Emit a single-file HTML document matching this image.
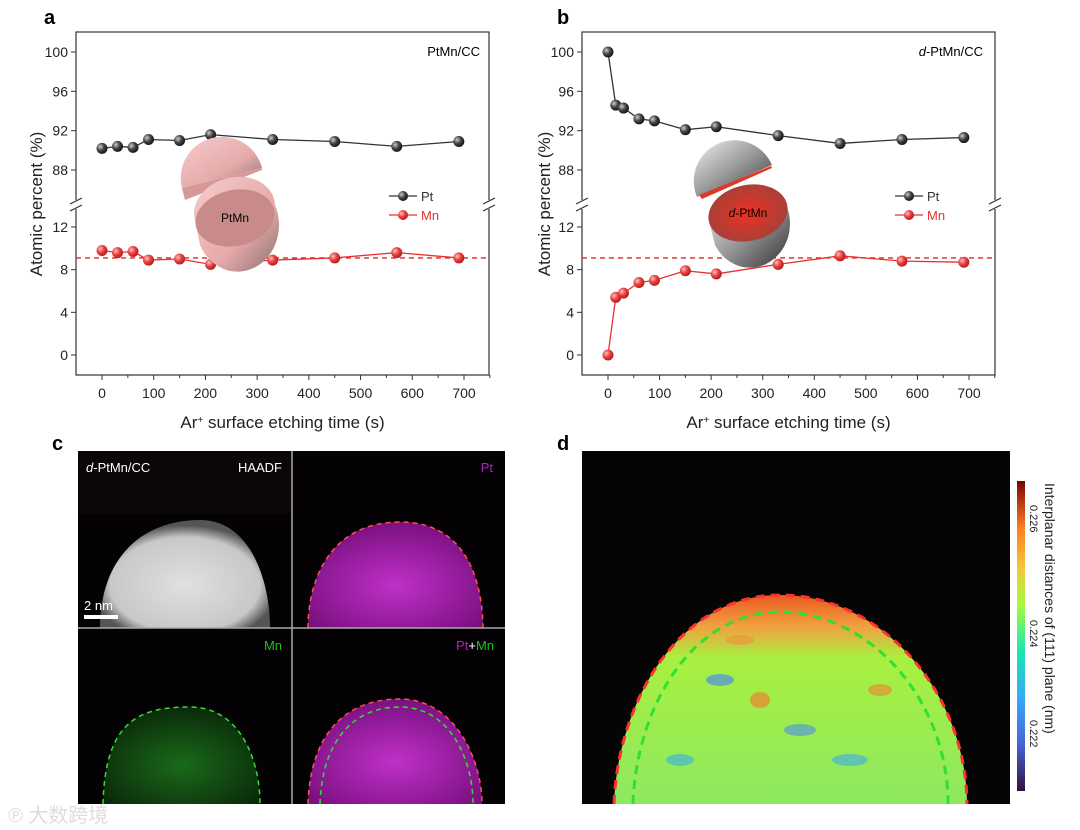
<!DOCTYPE html>
<html><head><meta charset="utf-8">
<style>
body{margin:0;background:#fff;width:1080px;height:830px;overflow:hidden;font-family:"Liberation Sans","Noto Sans CJK SC",sans-serif}
svg{position:absolute;left:0;top:0}
</style></head>
<body>
<svg id="fig" width="1080" height="830" viewBox="0 0 1080 830">
<defs>
<radialGradient id="gball" cx="0.35" cy="0.35" r="0.7"><stop offset="0" stop-color="#ccc"/><stop offset="0.5" stop-color="#444"/><stop offset="1" stop-color="#111"/></radialGradient>
<radialGradient id="rball" cx="0.35" cy="0.35" r="0.7"><stop offset="0" stop-color="#ffc0c0"/><stop offset="0.5" stop-color="#e84040"/><stop offset="1" stop-color="#b01818"/></radialGradient>
<linearGradient id="pinkShell" x1="0" y1="0" x2="1" y2="1"><stop offset="0" stop-color="#f6cccc"/><stop offset="0.6" stop-color="#e6aaaa"/><stop offset="1" stop-color="#8a7070"/></linearGradient>
<linearGradient id="greyShell" x1="0" y1="0" x2="1" y2="1"><stop offset="0" stop-color="#f0f0f0"/><stop offset="0.5" stop-color="#999"/><stop offset="1" stop-color="#333"/></linearGradient>
<radialGradient id="redCore"><stop offset="0" stop-color="#f03020"/><stop offset="1" stop-color="#a84038"/></radialGradient>
<linearGradient id="cbar" x1="0" y1="1" x2="0" y2="0"><stop offset="0" stop-color="#30123b"/><stop offset="0.15" stop-color="#4662d7"/><stop offset="0.3" stop-color="#36aaf9"/><stop offset="0.45" stop-color="#1ae4b6"/><stop offset="0.6" stop-color="#a4fc3c"/><stop offset="0.72" stop-color="#f3c63a"/><stop offset="0.85" stop-color="#fb7e21"/><stop offset="1" stop-color="#7a0403"/></linearGradient>
<radialGradient id="haadf" cx="0.5" cy="0.6" r="0.55"><stop offset="0" stop-color="#e0e0e0"/><stop offset="0.8" stop-color="#c8c8c8"/><stop offset="1" stop-color="#555"/></radialGradient>
<radialGradient id="magenta" cx="0.5" cy="0.6" r="0.6"><stop offset="0" stop-color="#c030c8"/><stop offset="1" stop-color="#7a1080"/></radialGradient>
<radialGradient id="greenDots" cx="0.5" cy="0.6" r="0.6"><stop offset="0" stop-color="#1a6a1a"/><stop offset="1" stop-color="#0a2a0a"/></radialGradient>
<linearGradient id="mapFill" x1="0" y1="0" x2="0" y2="1"><stop offset="0" stop-color="#e85a20"/><stop offset="0.15" stop-color="#f2a040"/><stop offset="0.3" stop-color="#a8f040"/><stop offset="1" stop-color="#8ee860"/></linearGradient>
</defs>
<g id="chartA"></g>
<g id="chartB"></g>

<text x="44" y="24" font-size="20" font-weight="bold">a</text>
<text x="480" y="56" font-size="13" text-anchor="end">PtMn/CC</text>
<g>
<path d="M182,188 A40,40 0 0 1 262,168 Z" fill="url(#pinkShell)"/>
<path d="M182,188 L262,168 L262,170 L185,200 Z" fill="#d89898"/>
<path d="M194,215 A39,31 -15 0 1 275,205 A40,45 0 0 1 200,245 Z" fill="url(#pinkShell)"/>
<ellipse cx="235" cy="218" rx="40" ry="28" transform="rotate(-12 235 218)" fill="#c98a8a"/>
<text x="235" y="222" font-size="12" text-anchor="middle">PtMn</text>
</g>
<text x="557" y="24" font-size="20" font-weight="bold">b</text>
<text x="983" y="56" font-size="13" text-anchor="end"><tspan font-style="italic">d</tspan>-PtMn/CC</text>
<g>
<path d="M697,197 A40,40 0 0 1 772,165 Z" fill="url(#greyShell)"/>
<path d="M699,195 L771,166 L772,168 L702,199 Z" fill="#e03828"/>
<path d="M710,225 A40,31 -15 0 1 788,210 A40,44 0 0 1 715,245 Z" fill="url(#greyShell)"/>
<ellipse cx="748" cy="213" rx="40" ry="28" transform="rotate(-12 748 213)" fill="url(#redCore)"/>
<text x="748" y="217" font-size="12" text-anchor="middle"><tspan font-style="italic">d</tspan>-PtMn</text>
</g>

<text x="52" y="450" font-size="20" font-weight="bold">c</text>
<g>
<rect x="78" y="451" width="427" height="353" fill="#050205"/>
<rect x="78" y="451" width="214" height="63" fill="#0a060a"/>
<path d="M100,628 C100,560 140,520 200,520 C250,520 270,580 270,628 Z" fill="url(#haadf)"/>
<rect x="84" y="615" width="34" height="4" fill="#fff"/>
<text x="84" y="610" font-size="13" fill="#fff">2 nm</text>
<text x="86" y="472" font-size="13" fill="#fff"><tspan font-style="italic">d</tspan>-PtMn/CC</text>
<text x="282" y="472" font-size="13" fill="#fff" text-anchor="end">HAADF</text>
<path d="M308,628 C308,580 330,522 400,522 C460,522 482,570 483,628 Z" fill="url(#magenta)"/>
<path d="M308,628 C308,580 330,522 400,522 C460,522 482,570 483,628" fill="none" stroke="#ff5050" stroke-width="1.5" stroke-dasharray="5,4"/>
<text x="493" y="472" font-size="13" fill="#b020c0" text-anchor="end">Pt</text>
<path d="M103,804 C105,720 140,707 190,707 C240,707 260,760 260,804 Z" fill="url(#greenDots)"/>
<path d="M103,804 C105,720 140,707 190,707 C240,707 260,760 260,804" fill="none" stroke="#30e030" stroke-width="1.5" stroke-dasharray="5,4"/>
<text x="282" y="650" font-size="13" fill="#20c020" text-anchor="end">Mn</text>
<path d="M308,804 C310,740 340,699 400,699 C455,699 482,760 482,804 Z" fill="url(#magenta)"/>
<path d="M308,804 C310,740 340,699 400,699 C455,699 482,760 482,804" fill="none" stroke="#ff5050" stroke-width="1.5" stroke-dasharray="5,4"/>
<path d="M320,804 C322,745 350,707 400,707 C450,707 473,760 473,804" fill="none" stroke="#30e030" stroke-width="1.5" stroke-dasharray="5,4"/>
<text x="494" y="650" font-size="13" text-anchor="end"><tspan fill="#b020c0">Pt</tspan><tspan fill="#fff">+</tspan><tspan fill="#20c020">Mn</tspan></text>
<line x1="292" y1="451" x2="292" y2="804" stroke="#aaa" stroke-width="1.5"/>
<line x1="78" y1="628" x2="505" y2="628" stroke="#aaa" stroke-width="1.5"/>
</g>
<text x="8" y="822" font-size="20" fill="#ddd">℗ 大数跨境</text>

<text x="557" y="450" font-size="20" font-weight="bold">d</text>
<g>
<rect x="582" y="451" width="428" height="353" fill="#050505"/>
<path d="M614,804 C618,700 680,595 780,595 C880,595 966,690 967,804 Z" fill="url(#mapFill)"/>
<ellipse cx="720" cy="680" rx="14" ry="6" fill="#4a90e8" opacity="0.7"/>
<ellipse cx="800" cy="730" rx="16" ry="6" fill="#4a90e8" opacity="0.6"/>
<ellipse cx="760" cy="700" rx="10" ry="8" fill="#f08030" opacity="0.7"/>
<ellipse cx="850" cy="760" rx="18" ry="6" fill="#3aaee8" opacity="0.6"/>
<ellipse cx="680" cy="760" rx="14" ry="6" fill="#3aaee8" opacity="0.6"/>
<ellipse cx="880" cy="690" rx="12" ry="6" fill="#f08030" opacity="0.6"/>
<ellipse cx="740" cy="640" rx="14" ry="5" fill="#f09040" opacity="0.6"/>
<path d="M614,804 C618,700 680,595 780,595 C880,595 966,690 967,804" fill="none" stroke="#ff3030" stroke-width="3" stroke-dasharray="9,6"/>
<path d="M633,804 C636,710 690,612 780,612 C870,612 948,700 948,804" fill="none" stroke="#30e030" stroke-width="3" stroke-dasharray="9,6"/>
<rect x="1017" y="481" width="8" height="310" fill="url(#cbar)"/>
<text transform="translate(1030,505) rotate(90)" font-size="11" fill="#222">0.226</text>
<text transform="translate(1030,620) rotate(90)" font-size="11" fill="#222">0.224</text>
<text transform="translate(1030,720) rotate(90)" font-size="11" fill="#222">0.222</text>
<text transform="translate(1045,483) rotate(90)" font-size="14" fill="#222">Interplanar distances of (111) plane (nm)</text>
</g>
</svg>
<script>
const timesA = [0,30,60,90,150,210,330,450,570,690];
const ptA = [90.2,90.4,90.3,91.1,91.0,91.6,91.1,90.9,90.4,90.9];
const mnA = [9.8,9.6,9.7,8.9,9.0,8.5,8.9,9.1,9.6,9.1];
const timesB = [0,15,30,60,90,150,210,330,450,570,690];
const ptB = [100,94.6,94.3,93.2,93.0,92.1,92.4,91.5,90.7,91.1,91.3];
const mnB = [0,5.4,5.8,6.8,7.0,7.9,7.6,8.5,9.3,8.8,8.7];
const xTicks = [0,100,200,300,400,500,600,700];
const yTicksUpper = [88,92,96,100];
const yTicksLower = [0,4,8,12];
const refLine = 9.1;
const NS='http://www.w3.org/2000/svg';
function mk(parent,tag,attrs){const e=document.createElementNS(NS,tag);for(const k in attrs)e.setAttribute(k,attrs[k]);parent.appendChild(e);return e;}
function drawChart(gid,L,R,x0px,x700px,times,pt,mn,titleX){
  const g=document.getElementById(gid);
  const T=32,B=375;
  const xs=v=>x0px+(x700px-x0px)*v/700;
  const ys=v=>v>=50?52+(100-v)*(170-52)/12:355-v*(355-227)/12;
  const frame=mk(g,'rect',{x:L,y:T,width:R-L,height:B-T,fill:'none',stroke:'#333','stroke-width':1.2});
  
  
  [L,R].forEach(xx=>{
    const m=mk(g,'rect',{x:xx-3,y:200,width:6,height:9,fill:'#fff'});
    
    
    const l1=mk(g,'line',{x1:xx-6,y1:204,x2:xx+6,y2:198,stroke:'#333','stroke-width':1.2});
    
    
    const l2=mk(g,'line',{x1:xx-6,y1:211,x2:xx+6,y2:205,stroke:'#333','stroke-width':1.2});
    
    
  });
  xTicks.forEach(v=>{
    const x=xs(v);
    const t=mk(g,'line',{x1:x,y1:B,x2:x,y2:B+5,stroke:'#333'});
    
    
    const m=mk(g,'line',{x1:x+(xs(50)-xs(0)),y1:B,x2:x+(xs(50)-xs(0)),y2:B+3,stroke:'#333'});
    
    
    const tx=mk(g,'text',{x:x,y:B+23,'font-size':14,'text-anchor':'middle',fill:'#222'});
    tx.textContent=v;
    
    
  });
  yTicksUpper.concat(yTicksLower).forEach(v=>{
    const y=ys(v);
    const t=mk(g,'line',{x1:L-5,y1:y,x2:L,y2:y,stroke:'#333'});
    
    
    const tx=mk(g,'text',{x:L-8,y:y+5,'font-size':14,'text-anchor':'end',fill:'#222'});
    tx.textContent=v;
    
    
  });
  const xt=mk(g,'text',{x:(L+R)/2,y:428,'font-size':17,'text-anchor':'middle',fill:'#222'});
  xt.innerHTML='Ar<tspan baseline-shift="super" font-size="10">+</tspan> surface etching time (s)';
  
  
  const yt=mk(g,'text',{transform:'translate('+titleX+',204) rotate(-90)','font-size':17,'text-anchor':'middle',fill:'#222'});
  yt.textContent='Atomic percent (%)';
  
  
  const dl=mk(g,'line',{x1:L,y1:ys(refLine),x2:R,y2:ys(refLine),stroke:'#e82020','stroke-width':1.3,'stroke-dasharray':'5,4'});
  
  
  [[pt,'#333','url(#gball)','pt-series'],[mn,'#e83030','url(#rball)','mn-series']].forEach(([arr,col,fill,name])=>{
    const pts=times.map((t,i)=>xs(t)+','+ys(arr[i])).join(' ');
    const pl=mk(g,'polyline',{points:pts,fill:'none',stroke:col,'stroke-width':1.3});
    
    
    times.forEach((t,i)=>{
      const c=mk(g,'circle',{cx:xs(t),cy:ys(arr[i]),r:5.5,fill:fill});
      
      
    });
  });
  const lx=R-100;
  [['Pt','#333','url(#gball)',196],['Mn','#e83030','url(#rball)',215]].forEach(([lab,col,fill,y])=>{
    const ln=mk(g,'line',{x1:lx,y1:y,x2:lx+28,y2:y,stroke:col,'stroke-width':1.3});
    
    
    const c=mk(g,'circle',{cx:lx+14,cy:y,r:5,fill:fill});
    
    
    const tx=mk(g,'text',{x:lx+32,y:y+5,'font-size':13,fill:col});
    tx.textContent=lab;
    
    
  });
}
drawChart('chartA',76,489,102,464,timesA,ptA,mnA,42);
drawChart('chartB',582,995,608,969,timesB,ptB,mnB,550);
</script>
</body></html>
